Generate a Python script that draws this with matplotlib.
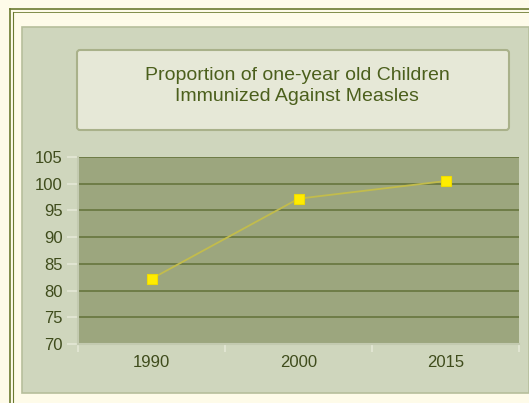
"""Proportion of one-year old children immunized against measles (line chart)."""

import matplotlib
matplotlib.use("Agg")
import matplotlib.pyplot as plt
import numpy as np
from matplotlib.patches import FancyBboxPatch, Rectangle

YEARS = ["1990", "2000", "2015"]
VALUES = [82.2, 97.2, 100.5]
Y_TICKS = [70, 75, 80, 85, 90, 95, 100, 105]

TITLE = "Proportion of one-year old Children\nImmunized Against Measles"

W, H = 529, 403
plt.rcParams["font.family"] = ["Liberation Sans", "DejaVu Sans"]

fig = plt.figure(figsize=(W / 100, H / 100), dpi=100)
fig.patch.set_facecolor("#fefbe9")

# background decorations in pixel coords
bg = fig.add_axes([0, 0, 1, 1])
bg.set_xlim(0, W)
bg.set_ylim(H, 0)
bg.axis("off")
bg.plot([10, 10], [9, H], color="#6b7a30", lw=1.2)
bg.plot([13, 13], [12, H], color="#6b7a30", lw=0.8)
bg.plot([10, W], [9, 9], color="#6b7a30", lw=1.2)
bg.plot([13, W], [12, 12], color="#6b7a30", lw=0.6)
bg.add_patch(Rectangle((22, 27), W - 22, 366, facecolor="#cfd6bd", edgecolor="#b6be9c", lw=1.2))
bg.add_patch(FancyBboxPatch((77, 50), 432, 80, boxstyle="round,pad=0,rounding_size=3",
                            facecolor="#e6e8d7", edgecolor="#a9b18a", lw=1.5))
bg.text(297, 86, TITLE, ha="center", va="center", fontsize=14, color="#4b5f1c",
        linespacing=1.25)

ax = fig.add_axes([78 / W, (H - 344) / H, 441 / W, 187 / H])
ax.set_facecolor("#9ca67e")
x = np.arange(len(YEARS))
ax.set_xlim(-0.5, len(YEARS) - 0.5)
ax.set_ylim(Y_TICKS[0], Y_TICKS[-1])
ax.set_yticks(Y_TICKS)
ax.set_xticks(x)
ax.set_xticklabels(YEARS)
ax.set_xticks(np.arange(len(YEARS) + 1) - 0.5, minor=True)
ax.tick_params(axis="x", which="major", length=0, pad=8, labelsize=12, labelcolor="#3f4c1c")
ax.tick_params(axis="x", which="minor", length=6, color="#e4e7d6", width=1.2)
ax.tick_params(axis="y", length=8, color="#e4e7d6", width=1.2, pad=3, labelsize=12,
               labelcolor="#3f4c1c")
ax.grid(axis="y", color="#6e7c47", lw=1.4)
ax.set_axisbelow(True)
for s in ["top", "right"]:
    ax.spines[s].set_visible(False)
ax.spines["left"].set_color("#c3cab0")
ax.spines["bottom"].set_color("#c3cab0")
ax.spines["left"].set_linewidth(1.5)
ax.spines["bottom"].set_linewidth(1.5)

ax.plot(x, VALUES, color="#c2bc4c", lw=1.3, zorder=3)
ax.plot(x, VALUES, ls="none", marker="s", ms=6.5, mfc="#ffec00", mec="#efdc00", mew=0.8,
        zorder=4, clip_on=False)

fig.savefig("out.png", dpi=100, facecolor=fig.get_facecolor())
